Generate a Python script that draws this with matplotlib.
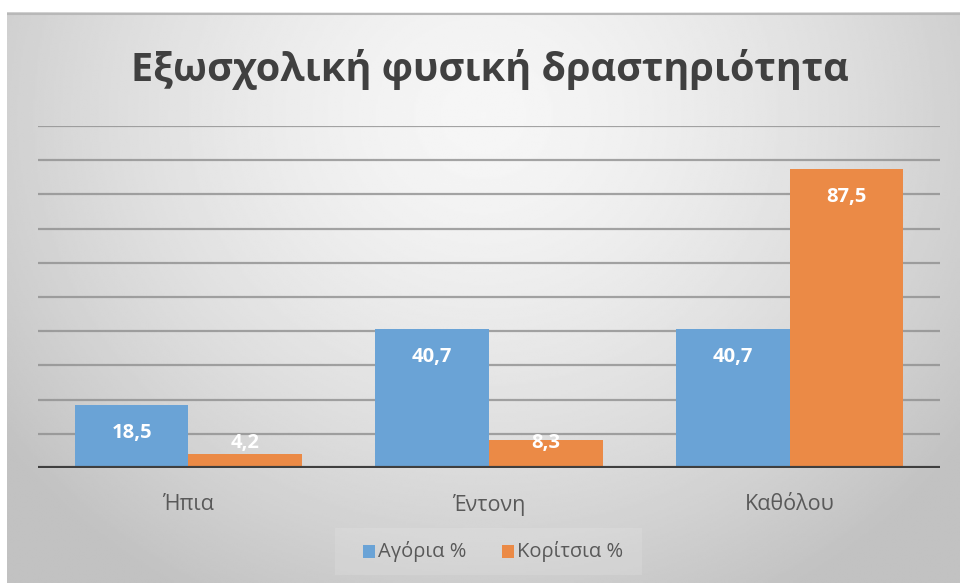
import numpy as np
import matplotlib.pyplot as plt
from matplotlib.patches import Rectangle

# Extracurricular physical activity, boys vs girls (%)
categories = ['Ήπια', 'Έντονη', 'Καθόλου']
boys = [18.5, 40.7, 40.7]
girls = [4.2, 8.3, 87.5]
series_names = ['Αγόρια %', 'Κορίτσια %']

title = 'Εξωσχολική φυσική δραστηριότητα'

blue = '#6aa3d6'
orange = '#eb8a46'
text_grey = '#595959'

plt.rcParams['font.family'] = ['Open Sans', 'DejaVu Sans']

W, H = 960, 583
fig = plt.figure(figsize=(W / 100, H / 100), dpi=100)
fig.patch.set_facecolor('white')

# radial grey background, lighter towards the top centre
bg = fig.add_axes([7 / W, 0, 1 - 7 / W, (H - 12) / H], zorder=0)
yy, xx = np.mgrid[0:1:300j, 0:1:500j]
r = np.sqrt(((xx - 0.5) / 0.62) ** 2 + ((yy - 0.18) / 0.95) ** 2)
shade = np.clip(0.965 - 0.2 * r ** 1.5, 0.76, 0.97)
bg.imshow(shade, cmap='gray', vmin=0, vmax=1, aspect='auto',
          extent=(0, 1, 1, 0), interpolation='bilinear')
bg.plot([0, 1], [0.997, 0.997], color='#b8b8b8', lw=1.5, transform=bg.transAxes)
bg.set_axis_off()

ax = fig.add_axes([38 / W, (H - 468) / H, (940 - 38) / W, (468 - 126) / H], zorder=1)
ax.patch.set_alpha(0)

x = np.arange(len(categories))
w = 0.3775
b1 = ax.bar(x - w / 2, boys, w, color=blue, zorder=3)
b2 = ax.bar(x + w / 2, girls, w, color=orange, zorder=3)

ax.set_ylim(0, 100)
ax.set_xlim(-0.5, len(categories) - 0.5)
ax.set_yticks(np.arange(10, 101, 10))
ax.yaxis.grid(True, color='#8f8f8f', lw=1.6, alpha=0.8, zorder=1)
ax.set_axisbelow(True)
ax.axhline(0, color='#3f3f3f', lw=3, zorder=4)
for s in ax.spines.values():
    s.set_visible(False)
ax.tick_params(axis='y', left=False, labelleft=False)
ax.tick_params(axis='x', bottom=False, pad=15)
ax.set_xticks(x)
ax.set_xticklabels(categories, fontsize=15.5, color=text_grey)

# value labels inside the top of each bar
for bars, vals in ((b1, boys), (b2, girls)):
    for rect, v in zip(bars, vals):
        ypos = max(v - 8.2, 7.3)
        ax.text(rect.get_x() + rect.get_width() / 2, ypos,
                f'{v:.1f}'.replace('.', ','), ha='center', va='center',
                color='white', fontsize=14.5, fontweight='bold', zorder=5)

fig.text(490 / W, 1 - 70 / H, title, ha='center', va='center',
         fontsize=28.5, fontweight='bold', color='#404040')

# legend
leg = fig.add_axes([335 / W, (H - 575) / H, (642 - 335) / W, 47 / H], zorder=2)
leg.set_xlim(0, 307)
leg.set_ylim(0, 47)
leg.add_patch(Rectangle((0, 0), 307, 47, color='white', alpha=0.12, lw=0))
for name, col, mx in ((series_names[0], blue, 28), (series_names[1], orange, 167)):
    leg.add_patch(Rectangle((mx, 17), 12, 13, color=col, lw=0))
    leg.text(mx + 15, 23, name, ha='left', va='center', fontsize=14.5,
             color=text_grey)
leg.set_axis_off()

fig.savefig('out.png', dpi=100, facecolor=fig.get_facecolor())
